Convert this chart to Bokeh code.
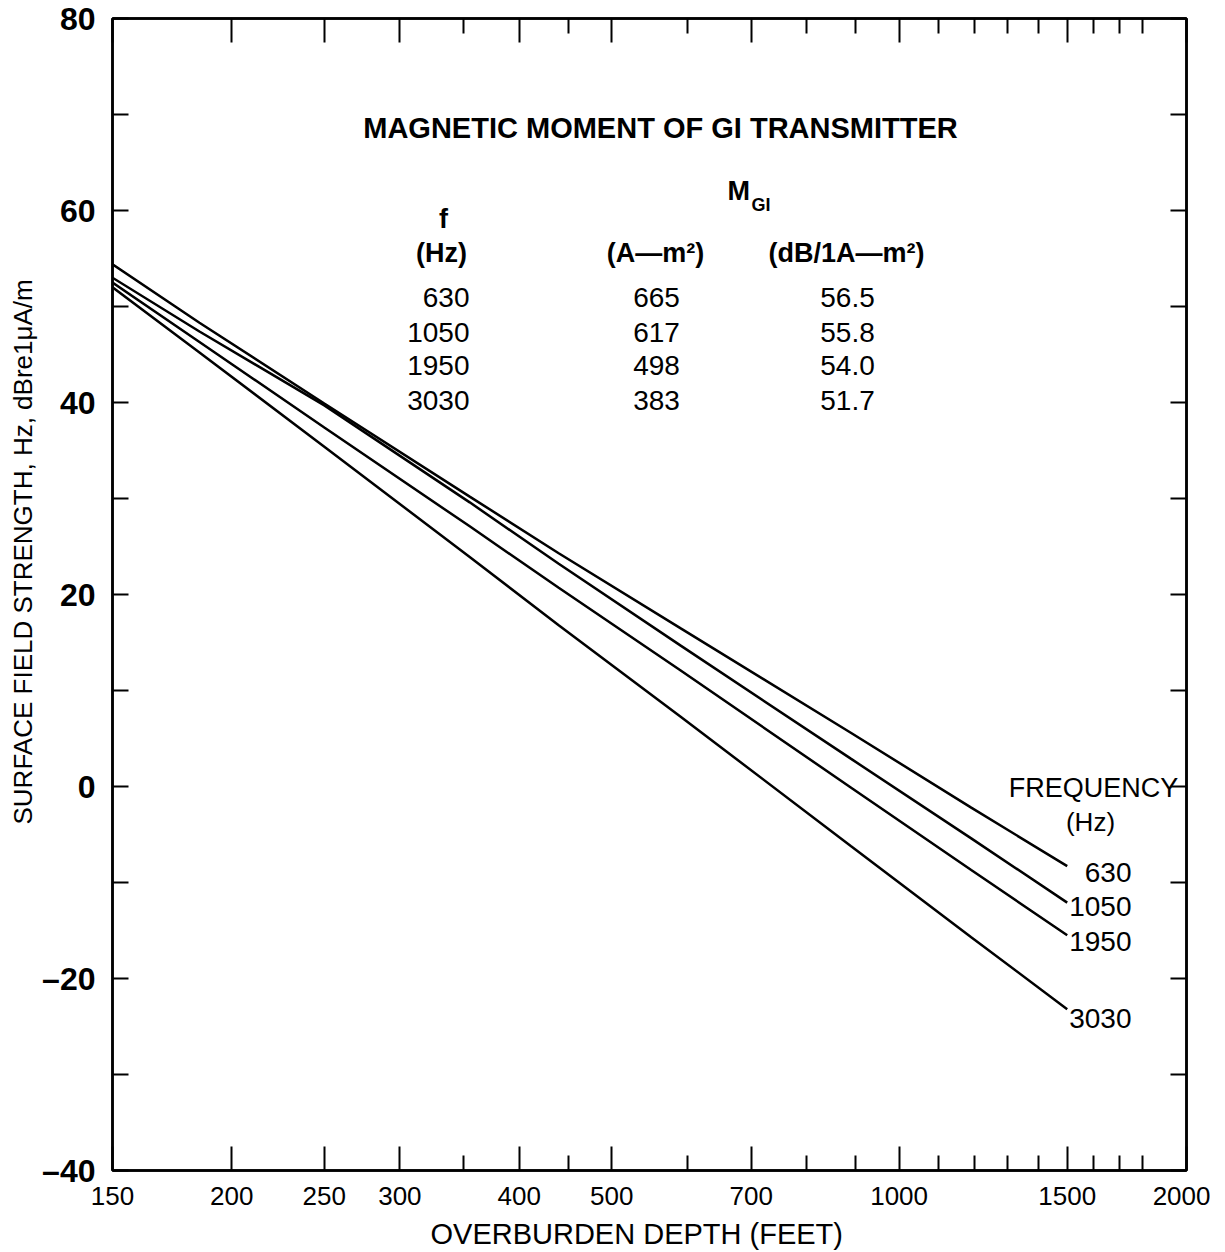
import math
from bokeh.plotting import figure
from bokeh.models import (LogAxis, LinearAxis, FixedTicker, Label, Range1d,
                          CustomJSTickFormatter, Title)
from bokeh.embed import file_html
from bokeh.resources import INLINE

# ---------------- data ----------------
depth_ft = [150, 185, 250, 355, 440, 590, 890, 1190, 1500]
hz_630 = [54.4, 48.3, 39.9, 30.2, 24.3, 16.5, 5.6, -2.2, -8.3]
hz_1050 = [53.0, 47.4, 39.7, 29.6, 23.2, 14.7, 2.9, -5.4, -12.1]
hz_1950 = [52.5, 46.3, 37.4, 27.1, 20.7, 12.1, -0.1, -8.7, -15.5]
hz_3030 = [52.0, 45.2, 35.4, 23.9, 16.8, 7.3, -6.2, -15.7, -23.2]

freq_labels = ["630", "1050", "1950", "3030"]
moment_am2 = ["665", "617", "498", "383"]
moment_db = ["56.5", "55.8", "54.0", "51.7"]

x_major = [150, 200, 250, 300, 400, 500, 700, 1000, 1500, 2000]
x_minor = [350, 450, 600, 800, 900, 1100, 1200, 1300, 1400, 1600, 1700, 1800]
y_major = [-40, -20, 0, 20, 40, 60, 80]
y_minor = [-30, -10, 10, 30, 50, 70]

X0, X1 = 150, 2000
Y0, Y1 = -40, 80

# ---------------- figure ----------------
FRAME_L, FRAME_T, FRAME_W, FRAME_H = 112, 18, 1074, 1152  # page pixels

p = figure(x_axis_type="log", x_range=Range1d(X0, X1), y_range=Range1d(Y0, Y1),
           frame_width=FRAME_W, frame_height=FRAME_H,
           min_border_left=FRAME_L, min_border_top=FRAME_T, min_border_right=24,
           min_border_bottom=76, output_backend="svg", toolbar_location=None,
           background_fill_color="white", border_fill_color="white")
p.grid.visible = False
p.outline_line_color = "black"
p.outline_line_width = 2.5


def px_x(px):
    return X0 * 10 ** ((px - FRAME_L) / FRAME_W * math.log10(X1 / X0))


def px_y(py):
    return Y1 - (py - FRAME_T) * (Y1 - Y0) / FRAME_H


FONT = "Liberation Sans"


def style(ax):
    ax.axis_line_color = "black"
    ax.axis_line_width = 2.5
    ax.major_tick_line_color = "black"
    ax.minor_tick_line_color = "black"
    ax.major_tick_line_width = 2
    ax.minor_tick_line_width = 2
    ax.major_tick_out = 0
    ax.minor_tick_out = 0


xa = p.xaxis[0]
xa.ticker = FixedTicker(ticks=x_major, minor_ticks=x_minor)
xa.formatter = CustomJSTickFormatter(code="return String(Math.round(tick));")
style(xa)
xa.major_tick_in = 24
xa.minor_tick_in = 15
xa.major_label_text_font = FONT
xa.major_label_text_font_size = "26px"
xa.major_label_text_color = "black"
xa.major_label_text_line_height = 1.0
xa.major_label_standoff = 16

ya = p.yaxis[0]
ya.ticker = FixedTicker(ticks=y_major, minor_ticks=y_minor)
ya.formatter = CustomJSTickFormatter(
    code="return tick < 0 ? '\u2013' + String(Math.abs(tick)) : String(tick);")
style(ya)
ya.major_tick_in = 16
ya.minor_tick_in = 16
ya.major_label_text_font = FONT
ya.major_label_text_font_size = "32px"
ya.major_label_text_font_style = "bold"
ya.major_label_text_color = "black"
ya.major_label_standoff = 17

blank = CustomJSTickFormatter(code="return '';")

top = LogAxis(ticker=FixedTicker(ticks=x_major, minor_ticks=x_minor),
              formatter=blank, major_label_standoff=0)
style(top)
top.major_tick_in = 24
top.minor_tick_in = 15
p.add_layout(top, "above")

right = LinearAxis(ticker=FixedTicker(ticks=y_major, minor_ticks=y_minor),
                   formatter=blank, major_label_standoff=0)
style(right)
right.major_tick_in = 16
right.minor_tick_in = 16
p.add_layout(right, "right")

# axis titles (as side-panel titles so they can sit outside the frame)
p.add_layout(Title(text="OVERBURDEN DEPTH (FEET)", align="left", offset=318,
                   standoff=16, text_font=FONT, text_font_size="29px",
                   text_font_style="normal", text_color="black",
                   text_line_height=1.0), "below")
p.add_layout(Title(text="SURFACE FIELD STRENGTH, Hz, dBre1\u03bcA/m",
                   align="left", offset=346, standoff=4, text_font=FONT,
                   text_font_size="26px", text_font_style="normal",
                   text_color="black", text_line_height=1.0), "left")

# ---------------- curves ----------------
for vals in (hz_630, hz_1050, hz_1950, hz_3030):
    p.line(depth_ft, vals, line_color="black", line_width=2.5)


# ---------------- texts inside the frame ----------------
def lab(text, px, py, size, align="center", bold=False):
    p.add_layout(Label(x=px_x(px), y=px_y(py), text=text, text_font=FONT,
                       text_font_size=f"{size}px", text_align=align,
                       text_baseline="middle",
                       text_font_style="bold" if bold else "normal",
                       text_color="black"))


lab("MAGNETIC MOMENT OF GI TRANSMITTER", 660, 127, 29, bold=True)
lab("M", 727, 190, 27, align="left", bold=True)
lab("GI", 751, 204, 18, align="left", bold=True)
lab("f", 443, 218, 27, bold=True)
lab("(Hz)", 441, 252, 27, bold=True)
lab("(A\u2014m\u00b2)", 655, 252, 27, bold=True)
lab("(dB/1A\u2014m\u00b2)", 846, 252, 27, bold=True)
row_y = [297, 332, 365, 400]
for f, m, d, ry in zip(freq_labels, moment_am2, moment_db, row_y):
    lab(f, 469, ry, 28, align="right")
    lab(m, 656, ry, 28)
    lab(d, 847, ry, 28)

lab("FREQUENCY", 1093, 787, 27)
lab("(Hz)", 1090, 821, 26)
curve_y = [872, 906, 941, 1018]
for f, cy in zip(freq_labels, curve_y):
    lab(f, 1131, cy, 28, align="right")

open("out.html", "w").write(file_html(p, INLINE))
